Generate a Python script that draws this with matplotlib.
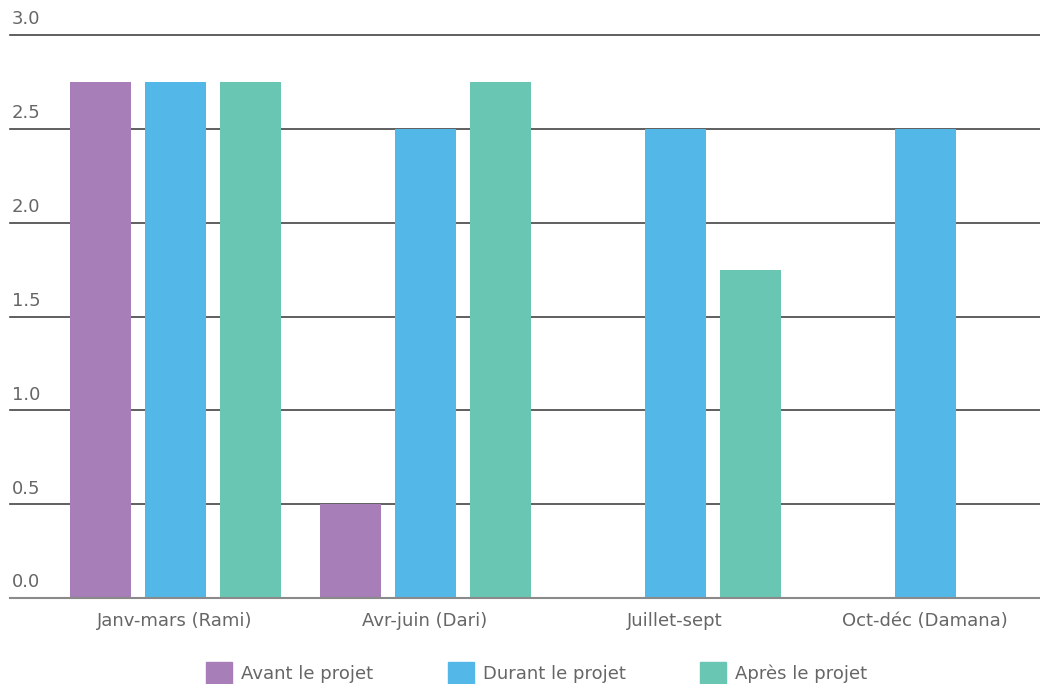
import matplotlib.pyplot as plt
import numpy as np
from matplotlib.patches import Patch

plt.rcParams['font.family'] = ['DejaVu Sans']

categories = ['Janv-mars (Rami)', 'Avr-juin (Dari)', 'Juillet-sept', 'Oct-déc (Damana)']
series = ['Avant le projet', 'Durant le projet', 'Après le projet']
avant = [2.75, 0.5, 0.0, 0.0]
durant = [2.75, 2.5, 2.5, 2.5]
apres = [2.75, 2.75, 1.75, 0.0]
colors = ['#a77eb7', '#53b8e8', '#68c6b3']
yticks = [0.0, 0.5, 1.0, 1.5, 2.0, 2.5, 3.0]

text_col = '#666666'
fs = 13

fig = plt.figure(figsize=(10.4, 6.84), dpi=100)
ax = fig.add_axes([10 / 1040, 1 - 598 / 684, 1030 / 1040, (598 - 35) / 684])

x = np.arange(len(categories))
w = 0.244
for i, (vals, c) in enumerate(zip([avant, durant, apres], colors)):
    ax.bar(x + (i - 1) * 0.3, vals, width=w, color=c, zorder=3, label=series[i])

# gridlines drawn by hand, unclipped so the top/bottom ones keep full width
for t in yticks[1:]:
    ax.axhline(t, color='#444444', lw=1.2, zorder=1, clip_on=False)
ax.axhline(0, color='#8a8a8a', lw=1.5, zorder=4, clip_on=False)

# y labels sit above their gridline, inside the axes
for t in yticks:
    ax.text(0.002, t + 0.035, f'{t:.1f}', transform=ax.get_yaxis_transform(),
            ha='left', va='bottom', fontsize=fs, color=text_col)

ax.set_xlim(-0.66, 3.46)
ax.set_ylim(0, 3.0)
ax.set_yticks([])
ax.set_xticks(x)
ax.set_xticklabels(categories, fontsize=fs, color=text_col)
ax.tick_params(axis='x', length=0, pad=10)
for s in ax.spines.values():
    s.set_visible(False)

handles = [Patch(color=c) for c in colors]
fig.legend(handles, series, loc='center', bbox_to_anchor=(0.516, 1 - 673 / 684), ncol=3,
           frameon=False, fontsize=fs, labelcolor=text_col, handlelength=1.45,
           handleheight=1.45, handletextpad=0.5, columnspacing=4.1)

fig.savefig('out.png', dpi=100)
